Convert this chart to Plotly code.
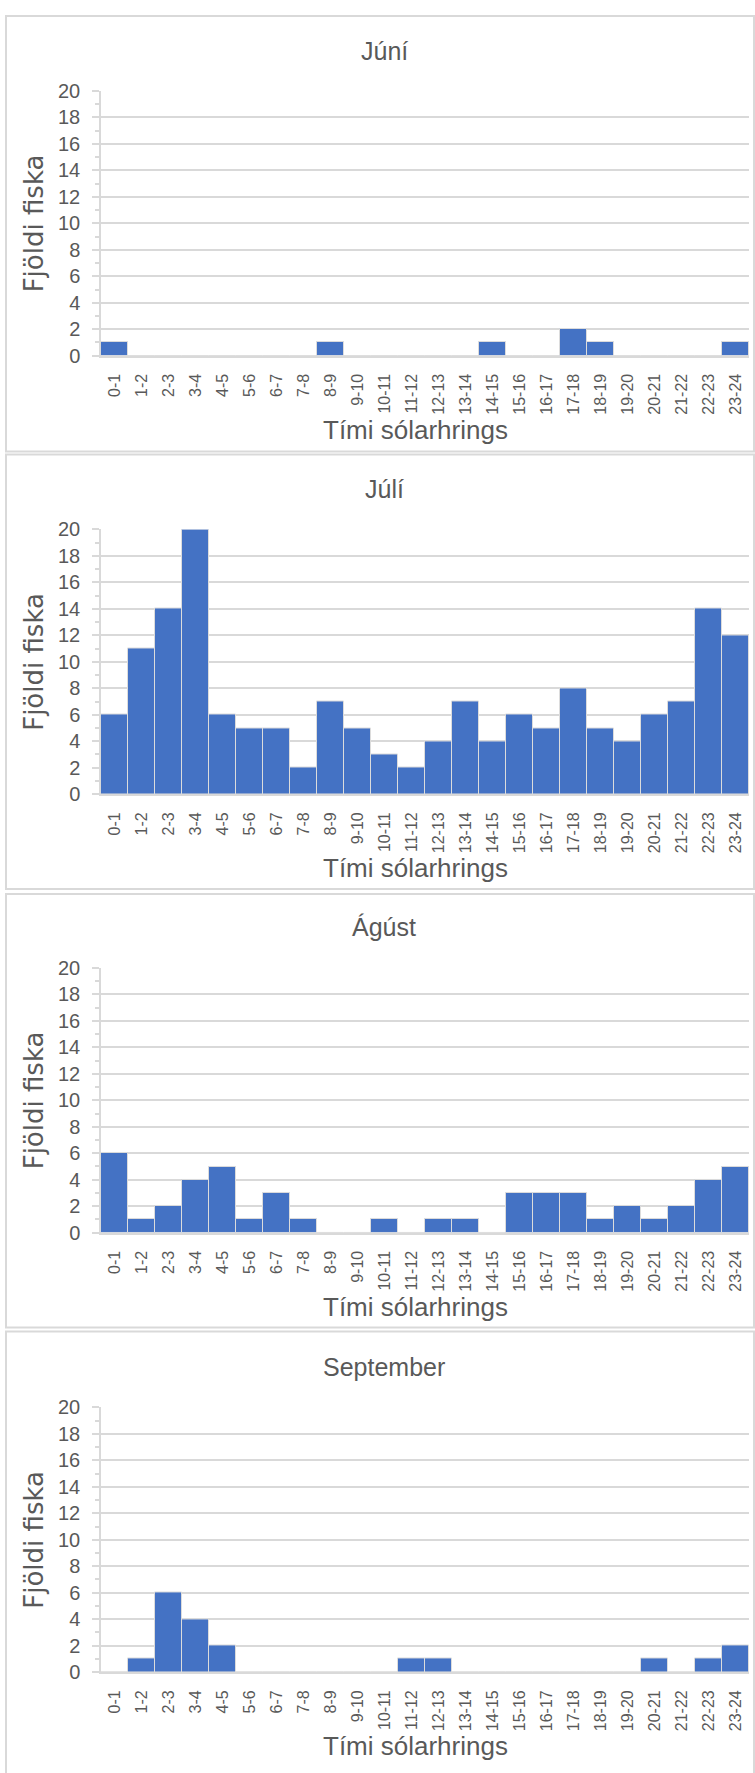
import plotly.graph_objects as go

# ---- data ----
categories = ["0-1", "1-2", "2-3", "3-4", "4-5", "5-6", "6-7", "7-8", "8-9", "9-10",
              "10-11", "11-12", "12-13", "13-14", "14-15", "15-16", "16-17", "17-18",
              "18-19", "19-20", "20-21", "21-22", "22-23", "23-24"]

juni = [1, 0, 0, 0, 0, 0, 0, 0, 1, 0, 0, 0, 0, 0, 1, 0, 0, 2, 1, 0, 0, 0, 0, 1]
juli = [6, 11, 14, 20, 6, 5, 5, 2, 7, 5, 3, 2, 4, 7, 4, 6, 5, 8, 5, 4, 6, 7, 14, 12]
agust = [6, 1, 2, 4, 5, 1, 3, 1, 0, 0, 1, 0, 1, 1, 0, 3, 3, 3, 1, 2, 1, 2, 4, 5]
september = [0, 1, 6, 4, 2, 0, 0, 0, 0, 0, 0, 1, 1, 0, 0, 0, 0, 0, 0, 0, 1, 0, 1, 2]

titles = ["Júní", "Júlí", "Ágúst", "September"]
series = [juni, juli, agust, september]
y_title = "Fjöldi fiska"
x_title = "Tími sólarhrings"

# ---- layout geometry (pixels) ----
W, H = 755, 1773
plot_left, plot_right = 101, 749
plot_tops = [81, 525, 969, 1414]
plot_bottoms = [349, 793, 1237, 1682]
border_tops = [5, 449, 894, 1337]
border_bottoms = [446, 889, 1333, 1800]

GRID = "#d9d9d9"
TEXT = "#595959"
BAR = "#4472C4"
FONT = "Liberation Sans, Arial, sans-serif"


def px_x(p):
    return p / W


def px_y(p):
    return 1 - p / H


fig = go.Figure()
annotations = []
shapes = []

for i, (title, vals) in enumerate(zip(titles, series)):
    n = i + 1
    xa = "x" if n == 1 else f"x{n}"
    ya = "y" if n == 1 else f"y{n}"
    fig.add_trace(go.Bar(
        x=categories, y=vals, xaxis=xa, yaxis=ya,
        marker=dict(color=BAR, line=dict(color="#dcdcdc", width=1)),
        showlegend=False,
    ))
    top, bot = plot_tops[i], plot_bottoms[i]
    fig.layout[f"xaxis{'' if n == 1 else n}"] = dict(
        domain=[px_x(plot_left), px_x(plot_right)],
        anchor=ya, type="category",
        showline=True, linecolor=GRID, linewidth=1.5,
        showgrid=False, ticks="", tickangle=-90,
        tickfont=dict(family=FONT, size=16, color=TEXT),
        ticklabelstandoff=10,
        fixedrange=True,
    )
    fig.layout[f"yaxis{'' if n == 1 else n}"] = dict(
        domain=[px_y(bot), px_y(top)],
        anchor=xa, range=[0, 20], dtick=2, tick0=0,
        showline=True, linecolor=GRID, linewidth=1.5,
        showgrid=True, gridcolor=GRID, gridwidth=1.5,
        zeroline=False,
        ticks="outside", ticklen=7, tickcolor=GRID, tickwidth=1.5,
        minor=dict(dtick=1, ticks="outside", ticklen=4, tickcolor=GRID, tickwidth=1.5, showgrid=False),
        tickfont=dict(family=FONT, size=20, color=TEXT),
        ticklabelstandoff=8,
        fixedrange=True,
    )
    # chart title
    annotations.append(dict(
        text=title, x=px_x(384), y=px_y(top - 41), xref="paper", yref="paper",
        xanchor="center", yanchor="middle", showarrow=False,
        font=dict(family=FONT, size=25, color=TEXT),
    ))
    # x axis title
    annotations.append(dict(
        text=x_title, x=px_x(415), y=px_y(bot + 75), xref="paper", yref="paper",
        xanchor="center", yanchor="middle", showarrow=False,
        font=dict(family=FONT, size=26, color=TEXT),
    ))
    # y axis title
    annotations.append(dict(
        text=y_title, x=px_x(34), y=px_y((top + bot) / 2), xref="paper", yref="paper",
        xanchor="center", yanchor="middle", showarrow=False, textangle=-90,
        font=dict(family="DejaVu Sans, Verdana, sans-serif", size=26, color=TEXT),
    ))
    # panel border
    shapes.append(dict(
        type="rect", xref="paper", yref="paper",
        x0=px_x(6), x1=px_x(754), y0=px_y(border_bottoms[i]), y1=px_y(border_tops[i]),
        line=dict(color=GRID, width=2), fillcolor="rgba(0,0,0,0)", layer="below",
    ))

fig.update_layout(
    width=W, height=H,
    margin=dict(l=0, r=0, t=0, b=0),
    paper_bgcolor="white", plot_bgcolor="white",
    bargap=0,
    annotations=annotations, shapes=shapes,
)

fig.write_html("out.html")
